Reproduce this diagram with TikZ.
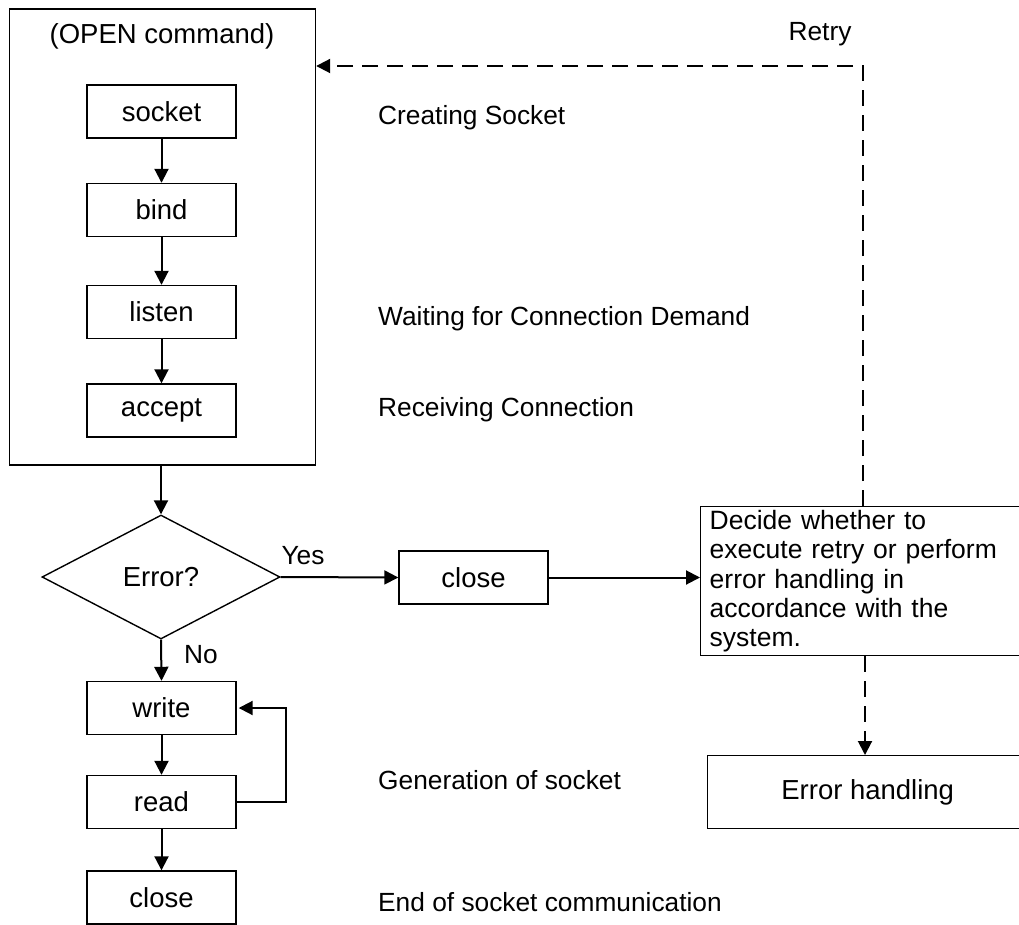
\documentclass[tikz,border=0pt]{standalone}
\usepackage{fontspec}
\setmainfont{Liberation Sans}
\usetikzlibrary{arrows.meta,shapes.geometric}
\begin{document}
\begin{tikzpicture}[x=1pt,y=-1pt,
  every node/.style={font=\fontsize{26.3}{29}\selectfont},
  box/.style={draw, line width=1.4pt, minimum width=149pt, minimum height=53pt, inner sep=0pt,
              font=\fontsize{27.5}{29}\selectfont},
  arr/.style={line width=2pt, -{Triangle[length=14pt,width=14pt]}},
  darr/.style={arr, dash pattern=on 16pt off 9pt},
  lbl/.style={anchor=west, inner sep=0pt}]
\useasboundingbox (0,0) rectangle (1019,925);
\clip (0,0) rectangle (1019,925);

% OPEN command group
\node[box, minimum width=306pt, minimum height=456pt] (open) at (162.5,237) {};
\node[font=\fontsize{27.5}{29}\selectfont] (opentitle) at (162,36) {(OPEN command)};
\node[box] (socket) at (161.5,111.5) {socket};
\node[box] (bind) at (161.5,210) {bind};
\node[box] (listen) at (161.5,312) {listen};
\node[box] (accept) at (161.5,410.5) {accept};

% decision and lower chain
\node[diamond, draw, line width=1.4pt, minimum width=238pt, minimum height=124pt, inner sep=0pt,
      font=\fontsize{27.5}{29}\selectfont] (err) at (161,577) {Error?};
\node[box] (write) at (161.5,708) {write};
\node[box] (read) at (161.5,802) {read};
\node[box] (close) at (161.5,897.5) {close};

% error branch
\node[box] (closeb) at (473.5,577.5) {close};
\node[box, anchor=north west, minimum width=340pt, minimum height=149pt,
      text width=322pt, inner xsep=9pt, align=left,
      font=\fontsize{26.5}{29.2}\selectfont] (decide) at (700,506)
  {Decide whether to\\execute retry or perform\\error handling in\\accordance with the\\system.};
\node[box, anchor=north west, minimum width=320pt, minimum height=73pt] (eh) at (707,755) {Error handling};

% labels
\node[lbl] (l1) at (378,118) {Creating Socket};
\node[lbl] (l2) at (378,319) {Waiting for Connection Demand};
\node[lbl] (l3) at (378,410) {Receiving Connection};
\node[lbl] (l4) at (378,780) {Generation of socket};
\node[lbl] (l5) at (378,902) {End of socket communication};
\node (retry) at (820,34) {Retry};
\node (yes) at (303,556) {Yes};
\node (no) at (201,655) {No};

% connectors
\draw[arr] (socket) -- (bind);
\draw[arr] (bind) -- (listen);
\draw[arr] (listen) -- (accept);
\draw[arr] (open.south -| err.north) -- (err.north);
\draw[arr] (err.east) -- (closeb.west);
\draw[arr] (closeb.east) -- (closeb.east -| decide.west);
\draw[arr] (err.south) -- (write.north);
\draw[arr] (write) -- (read);
\draw[arr] (read) -- (close);
\draw[arr] (read.east) -- ++(49,0) |- ([xshift=2pt]write.east);

\coordinate (rt) at (863,66);
\draw[darr] (decide.north west -| rt) -- (rt) -- (rt -| open.east);
\coordinate (dn) at (865,0);
\draw[darr] (decide.south west -| dn) -- (eh.north -| dn);
\end{tikzpicture}
\end{document}
